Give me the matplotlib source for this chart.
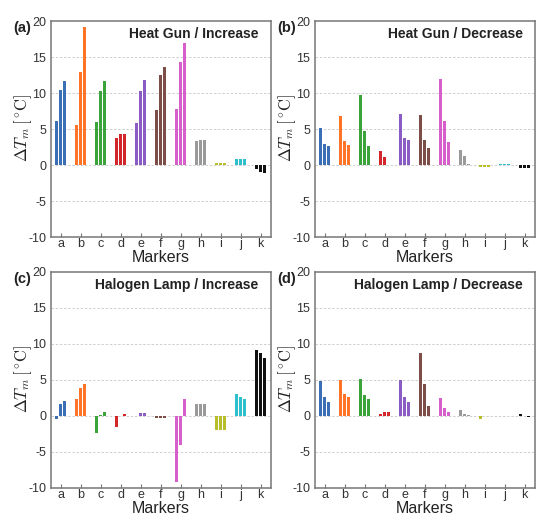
import matplotlib
matplotlib.use("Agg")
import matplotlib.pyplot as plt
import numpy as np

plt.rcParams['font.family'] = ['Liberation Sans', 'DejaVu Sans']
plt.rcParams['mathtext.fontset'] = 'cm'

markers = ['a', 'b', 'c', 'd', 'e', 'f', 'g', 'h', 'i', 'j', 'k']
colors = ['#3a6fb5', '#ff7427', '#3aa33a', '#d2262b', '#8a5cc4', '#7d4e47',
          '#d65fcc', '#9a9a9a', '#b8bd2a', '#2ebfcc', '#111111']

# three bars per marker
heatgun_inc = [
    [6.1, 10.4, 11.6], [5.6, 12.9, 19.1], [6.0, 10.3, 11.7], [3.8, 4.3, 4.3],
    [5.9, 10.3, 11.8], [7.7, 12.5, 13.6], [7.8, 14.3, 16.9], [3.3, 3.5, 3.5],
    [0.3, 0.3, 0.3], [0.8, 0.8, 0.8], [-0.5, -1.0, -1.1]]
heatgun_dec = [
    [5.1, 2.9, 2.6], [6.8, 3.4, 2.8], [9.7, 4.7, 2.7], [1.9, 1.1, 0.05],
    [7.1, 3.7, 3.5], [7.0, 3.5, 2.4], [12.0, 6.1, 3.2], [2.1, 1.3, 0.2],
    [-0.25, -0.25, -0.25], [0.1, 0.1, 0.1], [-0.35, -0.35, -0.35]]
halogen_inc = [
    [-0.4, 1.7, 2.1], [2.4, 3.9, 4.5], [-2.4, 0.1, 0.6], [-1.5, 0.0, 0.3],
    [0.05, 0.4, 0.4], [-0.3, -0.3, -0.3], [-9.2, -4.0, 2.3], [1.6, 1.7, 1.7],
    [-1.9, -1.9, -1.9], [3.1, 2.7, 2.3], [9.1, 8.7, 8.1]]
halogen_dec = [
    [4.8, 2.6, 2.0], [5.0, 3.1, 2.6], [5.1, 2.9, 2.4], [0.3, 0.5, 0.6],
    [5.0, 2.7, 1.9], [8.7, 4.4, 1.4], [2.5, 1.1, 0.5], [0.8, 0.3, 0.1],
    [-0.4, 0.0, 0.0], [0.05, 0.05, 0.0], [0.25, 0.05, -0.2]]

panels = [
    ('(a)', 'Heat Gun / Increase', heatgun_inc),
    ('(b)', 'Heat Gun / Decrease', heatgun_dec),
    ('(c)', 'Halogen Lamp / Increase', halogen_inc),
    ('(d)', 'Halogen Lamp / Decrease', halogen_dec),
]

W, H = 550, 523
fig = plt.figure(figsize=(W / 100, H / 100), dpi=100)
# axes placed in pixels so the thin bars land on whole pixels
boxes_px = [(50.5, 286), (314.5, 286), (50.5, 35), (314.5, 35)]
w_px, h_px = 220, 216

x = np.arange(len(markers))
step = 0.2
bw = 0.15
for (tag, title, data), (l, b) in zip(panels, boxes_px):
    ax = fig.add_axes([l / W, b / H, w_px / W, h_px / H])
    vals = np.array(data)
    for j in range(3):
        ax.bar(x + (j - 1) * step, vals[:, j], width=bw, color=colors,
               linewidth=0, antialiased=False, zorder=3)
    for yv in [15, 10, 5, 0, -5]:
        ax.axhline(yv, color='#c8c8c8', lw=0.6, ls=(0, (3, 2)), zorder=1)
    ax.set_xlim(-0.5, 10.5)
    ax.set_ylim(-10, 20)
    ax.set_yticks([-10, -5, 0, 5, 10, 15, 20])
    ax.set_yticklabels(['-10', '-5', '0', '5', '10', '15', '20'])
    ax.set_xticks(x)
    ax.set_xticklabels(markers)
    ax.tick_params(axis='x', direction='in', length=3, color='#777777',
                   labelsize=9, labelcolor='#333333', pad=1)
    ax.tick_params(axis='y', length=0, labelsize=9, labelcolor='#333333', pad=3)
    for s in ax.spines.values():
        s.set_color('#777777')
        s.set_linewidth(1.1)
    ax.set_xlabel('Markers', fontsize=11.5, color='#222222', labelpad=0)
    ax.set_ylabel(r'$\Delta T_m\,[^\circ\!\mathrm{C}]$', fontsize=12,
                  color='#222222')
    ax.yaxis.set_label_coords(-0.075, 0.505)
    ax.text(0.946, 0.972, title, transform=ax.transAxes, ha='right', va='top',
            fontsize=10, fontweight='bold', color='#222222')
    ax.text(-0.17, 1.0, tag, transform=ax.transAxes, ha='left', va='top',
            fontsize=10.5, fontweight='bold', color='#222222')

fig.savefig('out.png', dpi=100)
